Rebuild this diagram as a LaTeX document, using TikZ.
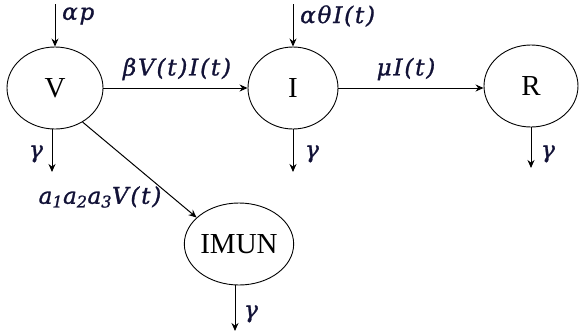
\documentclass[tikz,border=0pt]{standalone}
\usepackage{fontspec}
\setmainfont{Liberation Serif}
\newfontfamily\lblfont[LetterSpace=8,FakeBold=1.2]{DejaVu Serif Italic}
\usetikzlibrary{shapes.geometric,arrows.meta}
\definecolor{lblc}{RGB}{18,18,55}
\newcommand{\pr}[1]{\textup{(}#1\textup{)}}
\newcommand{\sbs}[1]{\textsubscript{\textup{#1}}}
\tikzset{
  state/.style={draw, ellipse, line width=0.9pt, inner sep=0pt, font=\fontsize{29}{30}\selectfont},
  flow/.style={line width=1pt, -{Stealth[length=8pt,width=7pt]}},
  lbl/.style={text=lblc, font=\fontsize{23}{26}\selectfont\lblfont, inner sep=0pt},
}
\begin{document}
\begin{tikzpicture}[x=1pt,y=-1pt]
\useasboundingbox (0,0) rectangle (579,333);
\node[state, minimum width=96pt, minimum height=82pt] (V) at (55,88) {V};
\node[state, minimum width=90pt, minimum height=82pt] (I) at (293,88) {I};
\node[state, minimum width=94pt, minimum height=82pt] (R) at (531,86) {R};
\node[state, minimum width=96pt, minimum height=82pt] (M) at (239,244) {IMUN};
% inflows
\coordinate (inV) at (55,4);
\coordinate (inI) at (293,4);
\draw[flow] (inV) -- (V.north);
\draw[flow] (inI) -- (I.north);
\node[lbl, anchor=west] (lap) at (62,16) {αp};
\node[lbl, anchor=west] (lat) at (300,16) {αθI\pr{t}};
% transitions
\draw[flow] (V.east) -- (I.west);
\node[lbl] (lb) at (177,69) {βV\pr{t}I\pr{t}};
\draw[flow] (I.east) -- (R.west |- I.east);
\node[lbl] (lm) at (406,69) {μI\pr{t}};
\draw[flow] (V.-51) -- (M.148);
\node[lbl] (la) at (100,197) {a\sbs{1}a\sbs{2}a\sbs{3}V\pr{t}};
% outflows
\coordinate (oV) at (52,172);
\coordinate (oI) at (293,172);
\coordinate (oR) at (531,168);
\coordinate (oM) at (235,331);
\draw[flow] (V.south -| oV) -- (oV);
\draw[flow] (I.south) -- (oI);
\draw[flow] (R.south) -- (oR);
\draw[flow] (M.south -| oM) -- (oM);
\node[lbl] (gV) at (36,154) {γ};
\node[lbl] (gI) at (312,154) {γ};
\node[lbl] (gR) at (548,154) {γ};
\node[lbl] (gM) at (251,314) {γ};
\end{tikzpicture}
\end{document}
